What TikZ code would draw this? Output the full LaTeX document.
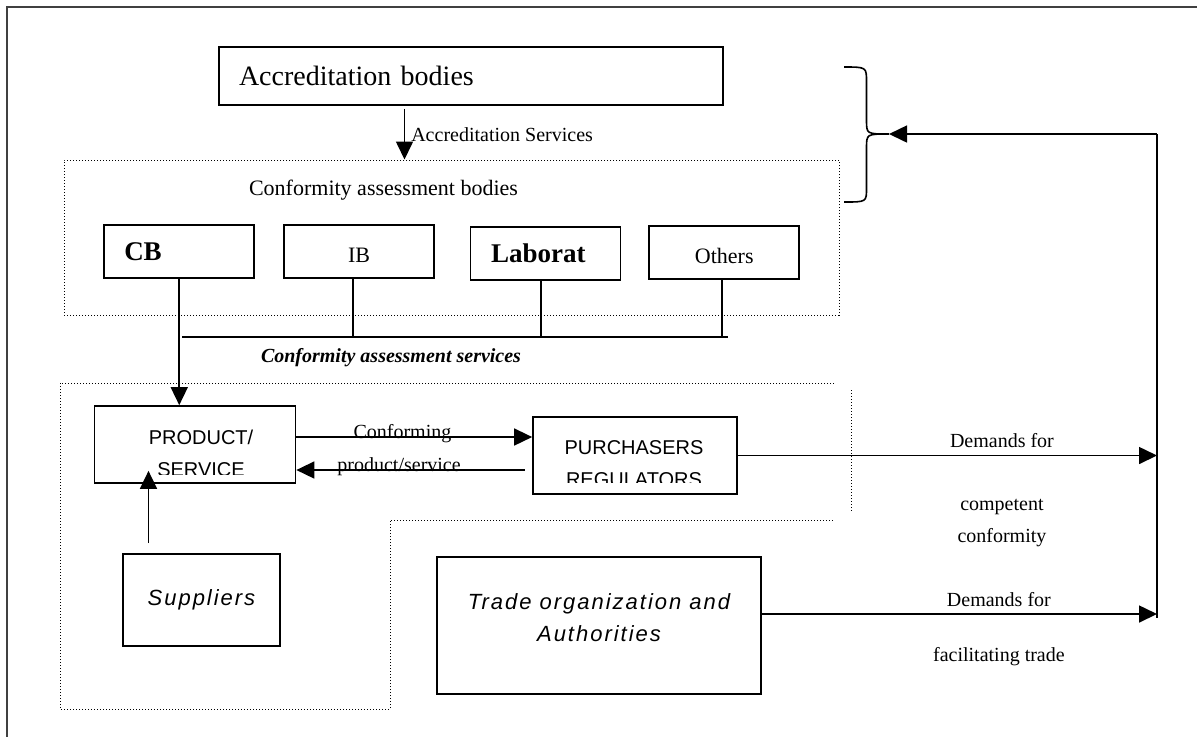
\documentclass[tikz,border=0pt]{standalone}
\usepackage{fontspec}
\setmainfont{Liberation Serif}
\newfontfamily\arialfont{Liberation Sans}
\newfontfamily\widefont[LetterSpace=9]{Liberation Sans}
\usepackage{tikz}
\usetikzlibrary{positioning,arrows.meta}

\begin{document}
\begin{tikzpicture}[x=0.5pt, y=-0.5pt,
  box/.style={draw, line width=0.85pt, inner sep=0pt, minimum width=#1, minimum height=26.5pt},
  box/.default=75pt,
  dotbox/.style={draw, densely dotted, line width=0.5pt},
  arrow/.style={-{Triangle[length=9pt, width=8.5pt]}, line width=0.8pt},
  lbl/.style={font=\fontsize{10}{16}\selectfont, inner sep=0pt, align=center}]
  \useasboundingbox (0,0) rectangle (1197,736);
  \begin{scope}
    \clip (0,0) rectangle (1197,736);
    \draw[line width=0.6pt, black!75] (7,7) rectangle (1230,760);
  \end{scope}
  % accreditation and conformity assessment bodies
  \node[box=252pt, minimum height=29pt, text width=232pt, inner xsep=10pt, align=left, font=\fontsize{14}{16}\selectfont] (acc) at (471,76) {Accreditation bodies};
  \node[dotbox, minimum width=387.5pt, minimum height=77.5pt, inner sep=0pt] (cab) at (451.5,237.5) {};
  \node[font=\fontsize{11}{13}\selectfont, inner sep=0pt] (cabtitle) at (383.5,190) {Conformity assessment bodies};
  \node[box, text width=55pt, inner xsep=9.75pt, align=left, font=\bfseries\fontsize{13.5}{16}\selectfont] (cb) at (179.25,251.5) {CB};
  \node[box, text height=11pt, text depth=0pt, font=\fontsize{11}{13}\selectfont] (ib) at (359,251.5) {IB};
  \node[box, text width=54.5pt, inner xsep=10pt, align=left, font=\bfseries\fontsize{13.5}{16}\selectfont] (lab) at (545.5,253.5) {Laborat};
  \node[box, text height=11pt, text depth=0pt, font=\fontsize{11}{13}\selectfont] (oth) at (724.25,252.5) {Others};
  \draw[arrow] ([xshift=-33.25pt,yshift=-1.5pt]acc.south) -- ([xshift=-33.25pt]acc.south |- cab.north)
    node[midway, right=3pt, font=\fontsize{10}{12}\selectfont, inner sep=0pt] {Accreditation Services};
  % services line
  \coordinate (bus) at (728,337);
  \draw[line width=0.8pt] ([xshift=1.5pt]cb.south |- bus) -- (bus);
  \foreach \n/\dx in {ib/-3pt, lab/-2.25pt, oth/-1.1pt}
    \draw[line width=0.8pt] ([xshift=\dx]\n.south) -- ([xshift=\dx]\n.south |- bus);
  \node[font=\bfseries\itshape\fontsize{10}{12}\selectfont, inner sep=0pt] (cas) at (391,358) {Conformity assessment services};
  % market
  \draw[densely dotted, line width=0.5pt] (834,383) -- (60,383) -- (60,709) -- (390,709) -- (390,520) -- (834,520);
  \draw[densely dotted, line width=0.5pt] (851,390) -- (851,513);
  \node[box=100.5pt, minimum height=38.5pt] (prod) at (195,444.5) {};
  \begin{scope}
    \clip (prod.north west) rectangle ([yshift=4.5pt]prod.south east);
    \node[lbl, font=\arialfont\fontsize{10}{16}\selectfont] (prodtxt) at (201,453) {PRODUCT/\\SERVICE};
  \end{scope}
  \node[box=102pt, minimum height=38.5pt] (pur) at (635,455.5) {};
  \begin{scope}
    \clip (pur.north west) rectangle ([yshift=6pt]pur.south east);
    \node[lbl, font=\arialfont\fontsize{10}{16}\selectfont] (purtxt) at (634,464) {PURCHASERS\\REGULATORS};
  \end{scope}
  \draw[arrow] (cb.south) -- (cb.south |- prod.north);
  \draw[arrow] ([yshift=3.75pt]prod.east) -- ([yshift=3.75pt]prod.east -| pur.west)
    node[lbl, pos=0.45, yshift=1.5pt] {Conforming};
  \draw[arrow] ([xshift=-3.75pt,yshift=-7.25pt]pur.west) -- ([yshift=-7.25pt]pur.west -| prod.east)
    node[lbl, pos=0.55, yshift=1.5pt] {product/service};
  \node[box=78.5pt, minimum height=46pt, font=\widefont\itshape\fontsize{11}{16}\selectfont] (sup) at (201.5,600) {Suppliers};
  \draw[arrow] ([xshift=-26.5pt,yshift=5pt]sup.north) -- ([xshift=-26.5pt,yshift=6.5pt]sup.north |- prod.south);
  \node[box=162pt, minimum height=68.5pt] (trade) at (598.85,625.5) {};
  \node[font=\widefont\itshape\fontsize{11}{16}\selectfont, align=center, inner sep=0pt] (tradetxt) at (599,618) {Trade organization and\\Authorities};
  % demands feeding back
  \coordinate (vtop) at (1157,134);
  \coordinate (vbot) at (1157,618);
  \coordinate (brtip) at (889,134);
  \draw[line width=0.8pt] (vtop) -- (vbot);
  \draw[arrow] (vtop) -- (brtip);
  \draw[line width=0.8pt] (844,67) .. controls (866.5,67) .. (866.5,82) -- (866.5,120)
    .. controls (866.5,134) .. (brtip) .. controls (866.5,134) .. (866.5,148) -- (866.5,188)
    .. controls (866.5,202) .. (844,202);
  \draw[arrow] (pur.east) -- (pur.east -| vtop)
    node[lbl, pos=0.63, above=3.5pt] {Demands for}
    node[lbl, pos=0.63, yshift=-34pt] {competent\\conformity};
  \draw[arrow] ([yshift=5.75pt]trade.east) -- ([yshift=5.75pt]trade.east -| vtop)
    node[lbl, pos=0.6, above=3.5pt] {Demands for}
    node[lbl, pos=0.6, yshift=-21.5pt] {facilitating trade};
\end{tikzpicture}
\end{document}
